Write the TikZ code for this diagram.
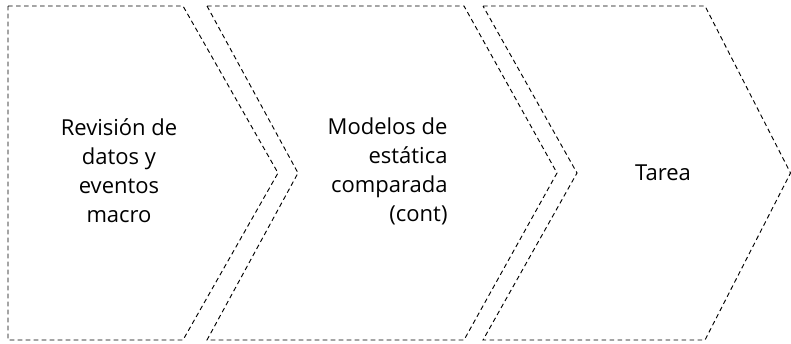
\documentclass[tikz,border=0pt]{standalone}
\usepackage{fontspec}
\setmainfont{Open Sans}
\tikzset{
	chevron/.style={draw, dashed, dash pattern=on 3.5pt off 2.5pt, line width=0.7pt},
	steptext/.style={font=\fontsize{16.5}{21.75}\selectfont, inner sep=0pt}}
\tikzset{every picture/.style={line width=0.75pt}}

\begin{document}
\begin{tikzpicture}[x=0.75pt,y=0.75pt,yscale=-1,xscale=1]
	\useasboundingbox (0,0) rectangle (791,343);

	%Shape: Pentagon [id:first] 
	\draw [chevron] (8,6) -- (183,6) -- (278,173) -- (183,340) -- (8,340) -- cycle ;
	%Shape: Chevron [id:second] 
	\draw [chevron] (207,6) -- (464,6) -- (557,173) -- (464,340) -- (207,340) -- (298,173) -- cycle ;
	%Shape: Chevron [id:third] 
	\draw [chevron] (483,6) -- (705,6) -- (790.5,173) -- (705,340) -- (483,340) -- (577,173) -- cycle ;

	% Text Node
	\node [steptext, align=center] (revision) at (119,171) {Revisión de\\datos y\\eventos\\macro};
	% Text Node
	\node [steptext, align=right, anchor=east] (modelos) at (448,171) {Modelos de\\estática\\comparada\\(cont)};
	% Text Node
	\node [steptext] (tarea) at (663,173) {Tarea};

\end{tikzpicture}
\end{document}
